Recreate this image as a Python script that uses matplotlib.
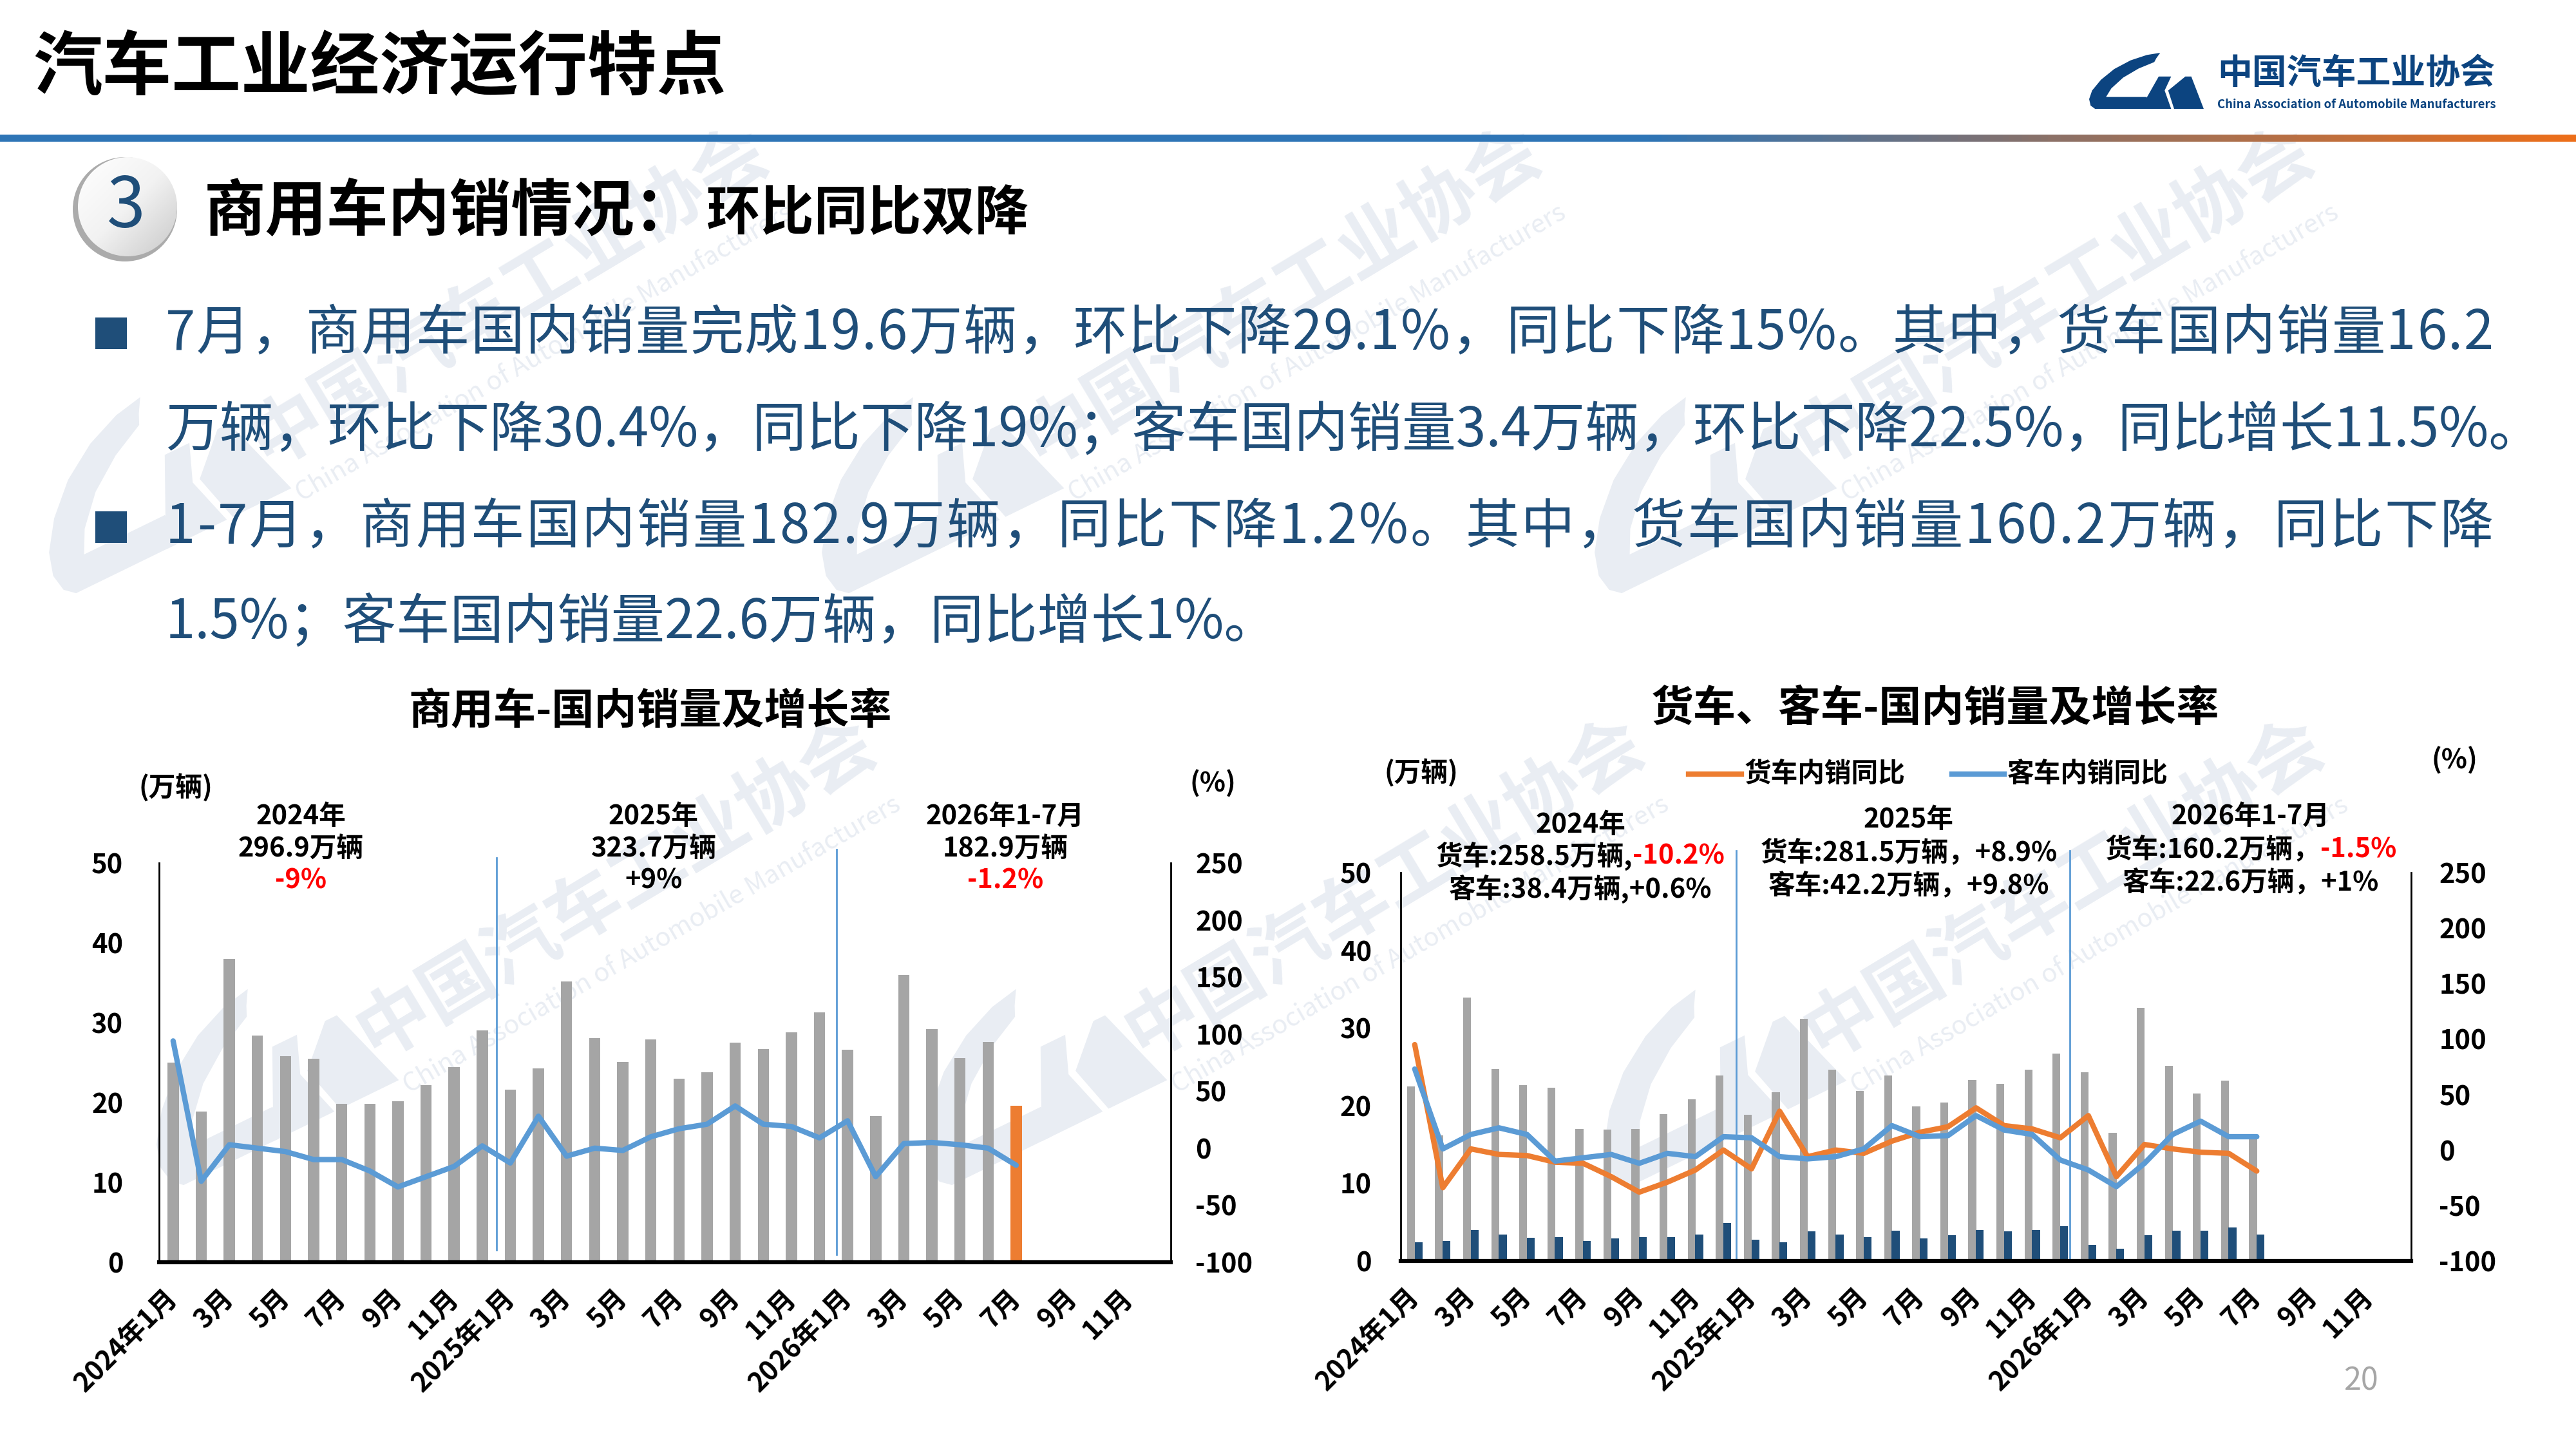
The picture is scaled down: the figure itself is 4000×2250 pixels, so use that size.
import numpy as np
import matplotlib
matplotlib.use('Agg')
import matplotlib.pyplot as plt
from matplotlib.patches import Circle, Polygon, Rectangle
from matplotlib.colors import LinearSegmentedColormap

plt.rcParams['font.family'] = ['Noto Sans CJK SC', 'DejaVu Sans']
plt.rcParams['axes.unicode_minus'] = False

# ---- data (万辆, %) ----
tick_labels = ['2024年1月', '3月', '5月', '7月', '9月', '11月',
               '2025年1月', '3月', '5月', '7月', '9月', '11月',
               '2026年1月', '3月', '5月', '7月', '9月', '11月']
n_months = 36

cv_sales = [25.0, 18.9, 38.0, 28.4, 25.8, 25.5, 19.8, 19.8, 20.2, 22.2, 24.4, 29.0,
            21.6, 24.3, 35.2, 28.1, 25.1, 27.9, 23.0, 23.8, 27.5, 26.7, 28.8, 31.3,
            26.6, 18.3, 36.0, 29.2, 25.6, 27.6, 19.6]
cv_yoy = [94, -29, 3, 0, -3, -10, -10, -20, -34, -25, -16, 2,
          -13, 28, -7, 0, -2, 10, 17, 21, 37, 21, 19, 9,
          24, -25, 4, 5, 3, 0, -15]

truck_sales = [22.5, 16.2, 33.9, 24.7, 22.6, 22.3, 17.0, 16.9, 17.0, 18.9, 20.8, 23.9,
               18.8, 21.7, 31.2, 24.6, 21.9, 23.9, 19.9, 20.4, 23.3, 22.8, 24.6, 26.7,
               24.3, 16.5, 32.6, 25.1, 21.6, 23.2, 16.2]
bus_sales = [2.4, 2.6, 4.0, 3.4, 3.0, 3.1, 2.6, 2.9, 3.1, 3.1, 3.4, 4.9,
             2.7, 2.4, 3.8, 3.4, 3.1, 3.9, 2.9, 3.3, 4.0, 3.8, 4.0, 4.5,
             2.1, 1.6, 3.3, 3.9, 3.9, 4.3, 3.4]
truck_yoy = [95, -34, 1, -4, -5, -11, -12, -24, -38, -29, -18, 0,
             -17, 35, -6, 0, -3, 8, 16, 21, 38, 22, 19, 11,
             31, -24, 5, 1, -2, -3, -19]
bus_yoy = [73, 1, 14, 20, 14, -10, -7, -4, -12, -3, -6, 12,
           11, -6, -8, -6, 1, 22, 12, 13, 31, 18, 14, -9,
           -18, -33, -12, 14, 26, 12, 12]

GRAY = '#A5A5A5'
ORANGE = '#ED7D31'
BLUE = '#5B9BD5'
NAVY = '#1F4E79'
LOGO = '#0C4480'
WM = '#E9EDF3'

fig = plt.figure(figsize=(16, 9), dpi=250)
bg = fig.add_axes([0, 0, 1, 1])
bg.set_zorder(-5)
bg.axis('off')


def set_bg_limits():
    bg.set_xlim(0, 4000)
    bg.set_ylim(2250, 0)


set_bg_limits()
renderer = fig.canvas.get_renderer()


def ptext(x, y, s, size, **kw):
    kw.setdefault('va', 'center')
    kw.setdefault('zorder', 3)
    return bg.text(x, y, s, fontsize=size, **kw)


def text_width(s, size, **kw):
    t = bg.text(0, 0, s, fontsize=size, **kw)
    w = t.get_window_extent(renderer).width
    t.remove()
    return w


def mixed_line(xc, y, parts, size=12):
    widths = [text_width(s, size, fontweight='bold') for s, c in parts]
    x = xc - sum(widths) / 2
    for (s, c), w in zip(parts, widths):
        ptext(x, y, s, size, fontweight='bold', color=c, ha='left')
        x += w


def justified(x0, x1, y, s, size, **kw):
    widths = [text_width(ch, size) for ch in s]
    gap = (x1 - x0 - sum(widths)) / (len(s) - 1)
    x = x0
    for ch, w in zip(s, widths):
        ptext(x, y, ch, size, ha='left', **kw)
        x += w + gap


# logo outline in unit box (x right, y down)
logo_c = [(335, 125), (290, 135), (235, 160), (180, 200), (135, 250), (105, 300),
          (95, 340), (100, 370), (115, 385), (285, 385), (290, 330), (152, 330),
          (170, 290), (210, 240), (262, 198), (315, 168), (322, 150)]
logo_m1 = [(268, 385), (330, 235), (372, 235), (350, 300), (372, 385)]
logo_m2 = [(362, 300), (420, 235), (440, 235), (482, 385), (382, 385)]


def draw_logo(x0, y0, w, h, color, angle=0.0, z=3):
    # (x0, y0) is the lower-left corner in page pixels
    c, s = np.cos(np.radians(angle)), np.sin(np.radians(angle))
    for shape in (logo_c, logo_m1, logo_m2):
        pts = []
        for px, py in shape:
            dx = (px - 95) / 385 * w
            up = (385 - py) / 260 * h
            pts.append((x0 + dx * c - up * s, y0 - (dx * s + up * c)))
        bg.add_patch(Polygon(pts, closed=True, facecolor=color, edgecolor='none', zorder=z))


# ---- watermarks ----
for cx, cy in [(790, 460), (1990, 460), (3190, 460), (957, 1379), (2150, 1379), (3205, 1380)]:
    ptext(cx, cy, '中国汽车工业协会', 33, color=WM, fontweight='bold', ha='center',
          rotation=31, rotation_mode='anchor', zorder=0.5)
    ptext(cx + 55, cy + 88, 'China Association of Automobile Manufacturers', 11.5, color=WM,
          fontstyle='italic', ha='center', rotation=30, rotation_mode='anchor', zorder=0.5)
    draw_logo(cx - 690, cy + 470, 390, 230, WM, angle=26, z=0.4)

# ---- header ----
ptext(51, 107, '汽车工业经济运行特点', 31, fontweight='bold', color='black', ha='left')

cmap = LinearSegmentedColormap.from_list('hdr', [(0, '#2E75B6'), (0.64, '#2E75B6'),
                                                 (0.8, '#8C7167'), (1.0, '#EC6E1A')])
bg.imshow(np.linspace(0, 1, 400).reshape(1, -1), cmap=cmap, extent=[0, 4000, 220, 209],
          aspect='auto', zorder=2)
set_bg_limits()

draw_logo(3244, 169, 177, 87, LOGO)
ptext(3443, 114, '中国汽车工业协会', 15.5, fontweight='bold', color=LOGO, ha='left')
eng = 'China Association of Automobile Manufacturers'
eng_size = 10 * 432 / text_width(eng, 10, fontweight='bold')
ptext(3443, 162, eng, eng_size, fontweight='bold', color=LOGO, ha='left')

# section number circle
bg.add_patch(Circle((194, 325), 81, facecolor='#ABABAB', edgecolor='none', zorder=2))
inner = Circle((198, 321), 77, facecolor='none', edgecolor='none')
bg.add_patch(inner)
gx, gy = np.meshgrid(np.linspace(0, 1, 100), np.linspace(0, 1, 100))
grad = bg.imshow(gx + gy, cmap=LinearSegmentedColormap.from_list('g', ['#FFFFFF', '#F2F2F2', '#C9C9C9']),
                 extent=[121, 275, 398, 244], aspect='auto', zorder=2.5)
grad.set_clip_path(inner)
set_bg_limits()
ptext(196, 322, '3', 31, color=NAVY, ha='center')
ptext(317, 330, '商用车内销情况：', 27.5, fontweight='bold', color='black', ha='left')
ptext(1097, 333, '环比同比双降', 24, fontweight='bold', color='black', ha='left')

# bullet text
line1 = '7月，商用车国内销量完成19.6万辆，环比下降29.1%，同比下降15%。其中，货车国内销量16.2'
line2 = '万辆，环比下降30.4%，同比下降19%；客车国内销量3.4万辆，环比下降22.5%，同比增长11.5%。'
line3 = '1-7月，商用车国内销量182.9万辆，同比下降1.2%。其中，货车国内销量160.2万辆，同比下降'
line4 = '1.5%；客车国内销量22.6万辆，同比增长1%。'
for y in (518, 819):
    bg.add_patch(Rectangle((148, y - 25), 49, 49, facecolor=NAVY, edgecolor='none', zorder=3))
justified(257, 3872, 518, line1, 24, color=NAVY)
ptext(257, 668, line2, 24.15, color=NAVY, ha='left')
justified(257, 3872, 819, line3, 24, color=NAVY)
ptext(257, 967, line4, 24, color=NAVY, ha='left')

ptext(3666, 2145, '20', 14, color='#A6A6A6', ha='center')

# ---- charts ----
x_all = np.arange(n_months)
xt = np.arange(0, n_months, 2)


def style_axes(ax, ax2, lpad, rpad):
    ax.set_facecolor('none')
    ax2.set_facecolor('none')
    ax.set_xlim(-0.5, n_months - 0.5)
    ax.set_ylim(0, 50)
    ax.set_yticks(range(0, 51, 10))
    ax2.set_ylim(-100, 250)
    ax2.set_yticks(range(-100, 251, 50))
    ax.set_xticks(xt)
    ax.set_xticklabels(tick_labels, rotation=45, ha='right', va='center',
                       rotation_mode='anchor', fontsize=12, fontweight='bold')
    ax.tick_params(axis='x', length=0, pad=14)
    ax.tick_params(axis='y', length=0, pad=lpad, labelsize=12)
    ax2.tick_params(axis='y', length=0, pad=rpad, labelsize=12)
    for lab in ax.get_yticklabels() + ax2.get_yticklabels():
        lab.set_fontweight('bold')
    for sp in ('top', 'right'):
        ax.spines[sp].set_visible(False)
    for sp in ('top', 'left', 'bottom'):
        ax2.spines[sp].set_visible(False)
    ax.spines['left'].set_linewidth(0.8)
    ax2.spines['right'].set_linewidth(0.8)
    ax.spines['bottom'].set_linewidth(1.8)


# left chart: commercial vehicles
axl = fig.add_axes([247 / 4000, 1 - 1960 / 2250, 1571 / 4000, 620 / 2250])
axl2 = axl.twinx()
bar_colors = [GRAY] * (len(cv_sales) - 1) + [ORANGE]
axl.bar(x_all[:len(cv_sales)], cv_sales, width=0.4, color=bar_colors, zorder=2)
axl2.plot(x_all[:len(cv_yoy)], cv_yoy, color=BLUE, lw=2.4, solid_capstyle='round',
          solid_joinstyle='round', zorder=3)
style_axes(axl, axl2, 16, 11)
axl.axvline(11.5, ymin=0.03, ymax=1.013, color=BLUE, lw=0.8, clip_on=False, zorder=1)
axl.axvline(23.6, ymin=0.02, ymax=1.034, color=BLUE, lw=0.8, clip_on=False, zorder=1)

# right chart: trucks and buses
axr = fig.add_axes([2175 / 4000, 1 - 1958 / 2250, 1569 / 4000, 603 / 2250])
axr2 = axr.twinx()
n = len(truck_sales)
axr.bar(x_all[:n] - 0.135, truck_sales, width=0.28, color=GRAY, zorder=2)
axr.bar(x_all[:n] + 0.135, bus_sales, width=0.28, color=NAVY, zorder=2)
axr2.plot(x_all[:n], truck_yoy, color=ORANGE, lw=2.4, solid_capstyle='round',
          solid_joinstyle='round', zorder=3)
axr2.plot(x_all[:n], bus_yoy, color=BLUE, lw=2.4, solid_capstyle='round',
          solid_joinstyle='round', zorder=4)
style_axes(axr, axr2, 13, 12.5)
axr.axvline(11.45, ymin=0.005, ymax=1.057, color=BLUE, lw=0.8, clip_on=False, zorder=1)
axr.axvline(23.35, ymin=0.005, ymax=1.057, color=BLUE, lw=0.8, clip_on=False, zorder=1)

# chart titles, units, legend
ptext(1010, 1105, '商用车-国内销量及增长率', 19, fontweight='bold', ha='center')
ptext(3005, 1100, '货车、客车-国内销量及增长率', 19, fontweight='bold', ha='center')
ptext(273, 1224, '(万辆)', 12, fontweight='bold', ha='center')
ptext(1883, 1217, '(%)', 12, fontweight='bold', ha='center')
ptext(2207, 1201, '(万辆)', 12, fontweight='bold', ha='center')
ptext(3811, 1181, '(%)', 12, fontweight='bold', ha='center')

bg.plot([2622, 2704], [1202, 1202], color=ORANGE, lw=2.4, zorder=3)
ptext(2709, 1202, '货车内销同比', 12, fontweight='bold', ha='left')
bg.plot([3031, 3112], [1202, 1202], color=BLUE, lw=2.4, zorder=3)
ptext(3117, 1202, '客车内销同比', 12, fontweight='bold', ha='left')

# yearly summaries
left_notes = [(467, ['2024年', '296.9万辆', '-9%']),
              (1015, ['2025年', '323.7万辆', '+9%']),
              (1561, ['2026年1-7月', '182.9万辆', '-1.2%'])]
for xc, lines in left_notes:
    for y, s in zip([1268, 1318, 1368], lines):
        col = 'red' if s.startswith('-') else 'black'
        mixed_line(xc, y, [(s, col)])

mixed_line(2454, 1281, [('2024年', 'black')])
mixed_line(2454, 1329, [('货车:258.5万辆,', 'black'), ('-10.2%', 'red')])
mixed_line(2454, 1380, [('客车:38.4万辆,+0.6%', 'black')])
mixed_line(2964, 1273, [('2025年', 'black')])
mixed_line(2964, 1324, [('货车:281.5万辆，+8.9%', 'black')])
mixed_line(2964, 1375, [('客车:42.2万辆，+9.8%', 'black')])
mixed_line(3495, 1268, [('2026年1-7月', 'black')])
mixed_line(3495, 1319, [('货车:160.2万辆，', 'black'), ('-1.5%', 'red')])
mixed_line(3495, 1370, [('客车:22.6万辆，+1%', 'black')])

fig.savefig('out.png', dpi=250)
